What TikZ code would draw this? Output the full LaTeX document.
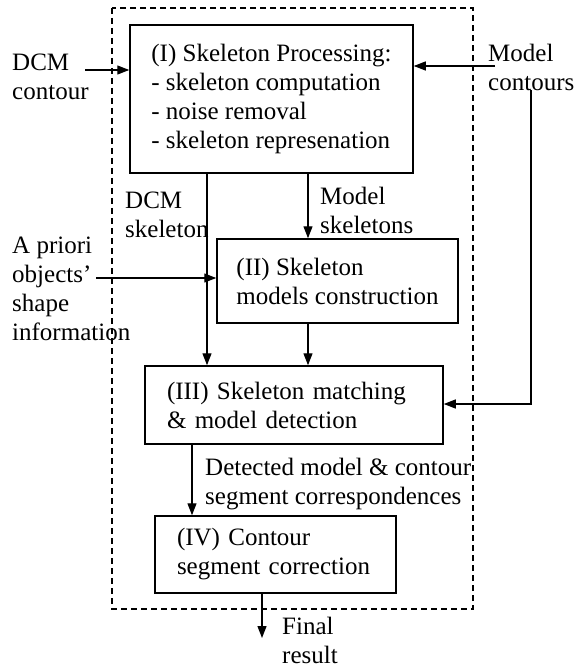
\documentclass[tikz,border=0pt]{standalone}
\usepackage{fontspec}
\setmainfont{Liberation Serif}
\usetikzlibrary{arrows.meta}
\begin{document}
\begin{tikzpicture}[x=1pt,y=-1pt,
  every node/.style={font=\fontsize{25}{29}\selectfont},
  box/.style={draw, line width=1.5pt, align=left, inner sep=0pt},
  lbl/.style={align=left, inner sep=0pt, anchor=west},
  arr/.style={line width=1.3pt, -{Triangle[length=12pt,width=9pt]}},
  ln/.style={line width=1.3pt}]
\useasboundingbox (0,0) rectangle (575,668);
% frame
\draw[line width=1.3pt, dash pattern=on 6pt off 4pt] (112,8) rectangle (473,609);
% boxes
\node[box, minimum width=283pt, minimum height=148pt] (b1) at (271.5,99)
  {(I) Skeleton Processing:\\- skeleton computation\\- noise removal\\- skeleton represenation};
\node[box, minimum width=241pt, minimum height=84pt] (b2) at (337.5,281)
  {(II) Skeleton\\models construction};
\node[box, text width=254pt, inner xsep=22pt, minimum height=78pt] (b3) at (294,405)
  {(III) Skeleton matching\\\& model detection};
\node[box, text width=197pt, inner xsep=22pt, minimum height=77pt] (b4) at (275.5,554.5)
  {(IV) Contour\\segment correction};
% labels
\node[lbl] (dcmc) at (12,77) {DCM\\contour};
\node[lbl] (mc) at (488,67) {Model\\contours};
\node[lbl] (dcms) at (125,215) {DCM\\skeleton};
\node[lbl] (ms) at (320,210) {Model\\skeletons};
\node[lbl] (ap) at (12,289) {A priori\\objects'\\shape\\information};
\node[lbl] (det) at (205,484.5) {Detected model \& contour\\segment correspondences};
\node[lbl] (fin) at (282,640) {Final\\result};
% coordinates
\coordinate (c1) at (85,70);
\coordinate (c2) at (495,66);
\coordinate (c3) at (531,90);
\coordinate (c4) at (531,404);
\coordinate (c5) at (96,278);
\coordinate (xa) at (207,0);
\coordinate (xb) at (308,0);
\coordinate (xc) at (192,0);
\coordinate (xd) at (262,0);
\coordinate (c6) at (262,638);
% connectors
\draw[arr] (c1) -- (c1 -| b1.west);
\draw[arr] (c2) -- (c2 -| b1.east);
\draw[arr] (c3) -- (c4) -- (c4 -| b3.east);
\draw[arr] (c5) -- (c5 -| b2.west);
\draw[arr] (xa |- b1.south) -- (xa |- b3.north);
\draw[arr] (xb |- b1.south) -- (xb |- b2.north);
\draw[arr] (xb |- b2.south) -- (xb |- b3.north);
\draw[arr] (xc |- b3.south) -- (xc |- b4.north);
\draw[arr] (xd |- b4.south) -- (c6);
\end{tikzpicture}
\end{document}
